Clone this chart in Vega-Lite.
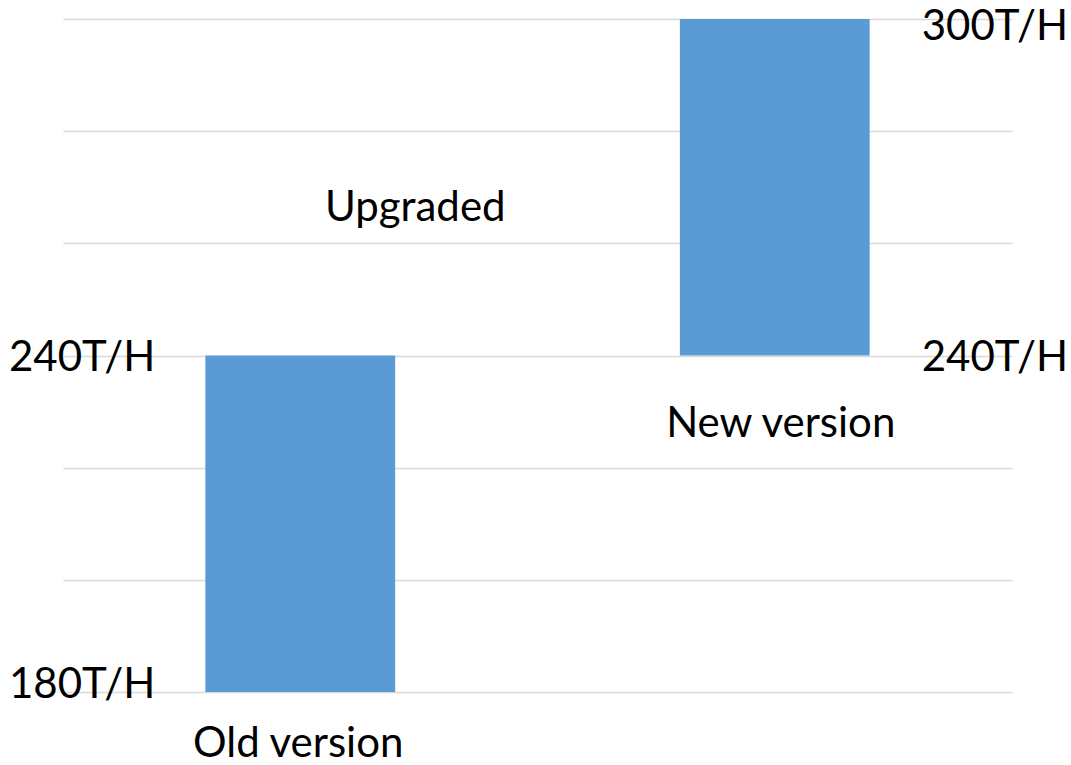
{
  "$schema": "https://vega.github.io/schema/vega-lite/v6.json",
  "autosize": {"type": "none"},
  "width": 949,
  "height": 673,
  "padding": {"left": 63, "top": 19, "right": 59, "bottom": 73},
  "background": "white",
  "config": {
    "view": {"stroke": null},
    "text": {"font": "Lato", "fontSize": 42, "color": "#000000"}
  },
  "datasets": {
    "bars": [
      {"version": "Old version", "start": 180, "end": 240},
      {"version": "New version", "start": 240, "end": 300}
    ]
  },
  "encoding": {
    "x": {
      "field": "version",
      "type": "nominal",
      "sort": ["Old version", "New version"],
      "scale": {"domain": ["Old version", "New version"], "paddingInner": 0.6, "paddingOuter": 0.3},
      "axis": null
    }
  },
  "layer": [
    {
      "data": {"name": "bars"},
      "mark": {"type": "bar", "color": "#5B9BD5"},
      "encoding": {
        "y": {
          "field": "start",
          "type": "quantitative",
          "scale": {"domain": [180, 300], "nice": false, "zero": false},
          "axis": {
            "values": [180, 200, 220, 240, 260, 280, 300],
            "grid": true,
            "gridColor": "#d9d9d9",
            "gridWidth": 1.5,
            "labels": false,
            "ticks": false,
            "domain": false,
            "title": null
          }
        },
        "y2": {"field": "end"}
      }
    },
    {
      "data": {"values": [{"version": "Old version", "value": 240, "label": "240T/H"}]},
      "mark": {"type": "text", "align": "right", "baseline": "middle", "dx": -145, "dy": 2},
      "encoding": {"y": {"field": "value", "type": "quantitative"}, "text": {"field": "label"}}
    },
    {
      "data": {"values": [{"version": "Old version", "value": 180, "label": "180T/H"}]},
      "mark": {"type": "text", "align": "right", "baseline": "middle", "dx": -145, "dy": -7},
      "encoding": {"y": {"field": "value", "type": "quantitative"}, "text": {"field": "label"}}
    },
    {
      "data": {"values": [{"version": "New version", "value": 300, "label": "300T/H"}]},
      "mark": {"type": "text", "align": "left", "baseline": "middle", "dx": 147, "dy": 8},
      "encoding": {"y": {"field": "value", "type": "quantitative"}, "text": {"field": "label"}}
    },
    {
      "data": {"values": [{"version": "New version", "value": 240, "label": "240T/H"}]},
      "mark": {"type": "text", "align": "left", "baseline": "middle", "dx": 147, "dy": 2},
      "encoding": {"y": {"field": "value", "type": "quantitative"}, "text": {"field": "label"}}
    },
    {
      "data": {"values": [{"version": "Old version", "value": 180, "label": "Old version"}]},
      "mark": {"type": "text", "align": "center", "baseline": "alphabetic", "dx": -2, "dy": 65},
      "encoding": {"y": {"field": "value", "type": "quantitative"}, "text": {"field": "label"}}
    },
    {
      "data": {"values": [{"version": "New version", "value": 240, "label": "New version"}]},
      "mark": {"type": "text", "align": "center", "baseline": "alphabetic", "dx": 6, "dy": 81},
      "encoding": {"y": {"field": "value", "type": "quantitative"}, "text": {"field": "label"}}
    },
    {
      "data": {"values": [{"version": "Old version", "value": 264, "label": "Upgraded"}]},
      "mark": {"type": "text", "align": "center", "baseline": "alphabetic", "dx": 115},
      "encoding": {"y": {"field": "value", "type": "quantitative"}, "text": {"field": "label"}}
    }
  ]
}
